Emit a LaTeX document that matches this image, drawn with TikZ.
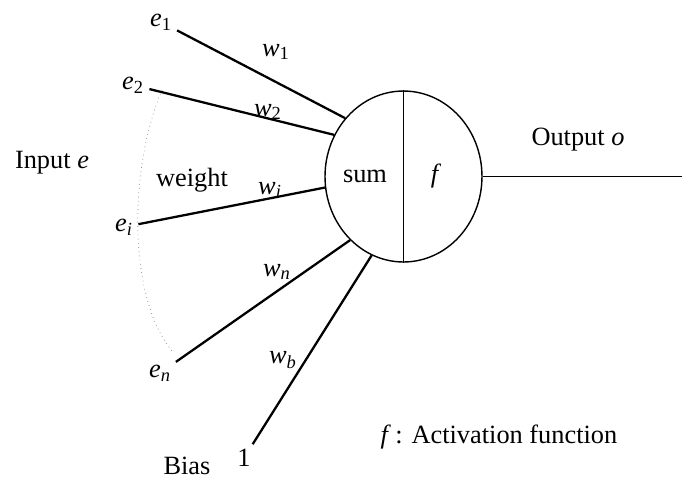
\documentclass[tikz,border=0pt]{standalone}
\usepackage{fontspec}
\setmainfont{Liberation Serif}
\usepackage{tikz}
\usetikzlibrary{
    positioning,
    shapes.geometric
}
\newcommand{\ilab}[2]{\textit{#1}\textsubscript{#2}}

\begin{document}
\begin{tikzpicture}[
        x=0.02cm, y=-0.02cm,
        every node/.style={font=\fontsize{15}{17}\selectfont},
        txt/.style={inner sep=1pt},
        neuron/.style={
            draw,
            ellipse,
            line width=0.8pt,
            minimum width=3.14cm,
            minimum height=3.42cm,
            inner sep=0pt
        },
        synapse/.style={
            line width=1.3pt,
            shorten <=2pt
        }
    ]
    \useasboundingbox (0,0) rectangle (691,481);

    % neuron body
    \node[neuron] (cell) at (403.5,176.5) {};
    \draw[line width=0.8pt] (cell.north) -- (cell.south);
    \node[txt] (sum) at (365,176) {sum};
    \node[txt] (act) at (436,176) {\textit{f}};

    % inputs
    \node[txt] (e1) at (161,22) {\ilab{e}{1}};
    \node[txt] (e2) at (133,85) {\ilab{e}{2}};
    \node[txt] (ei) at (124,227) {\ilab{e}{\textit{i}}};
    \node[txt] (en) at (160,373) {\ilab{e}{\textit{n}}};
    \node[txt] (one) at (244,458) {1};
    \node[txt] (bias) at (187,466) {Bias};
    \node[txt] (input) at (52,163) {Input \textit{e}};
    \node[txt] (weight) at (192,180) {weight};

    \draw[synapse] (e1) -- (cell.135);
    \draw[synapse] (e2) -- (cell.149);
    \draw[synapse] (ei) -- (cell.188);
    \draw[synapse] (en) -- (cell.230);
    \draw[synapse] (one) -- (cell.248);

    % weights
    \node[txt] (w1) at (276,52) {\ilab{w}{1}};
    \node[txt] (w2) at (268,112) {\ilab{w}{2}};
    \node[txt] (wi) at (270,190) {\ilab{w}{\textit{i}}};
    \node[txt] (wn) at (277,272) {\ilab{w}{\textit{n}}};
    \node[txt] (wb) at (283,360) {\ilab{w}{\textit{b}}};

    % dotted brace of inputs
    \coordinate (arcA) at (162,90);
    \coordinate (arcB) at (173,352);
    \draw[dotted, gray] (arcA) .. controls (128,170) and (128,300) .. (arcB);

    % output
    \coordinate (outend) at (682,176.5);
    \draw[line width=0.9pt] (cell.east) -- (outend);
    \node[txt] (output) at (578,140) {Output \textit{o}};

    \node[txt] (legend) at (499,437) {\textit{f}\,: Activation function};

\end{tikzpicture}
\end{document}
